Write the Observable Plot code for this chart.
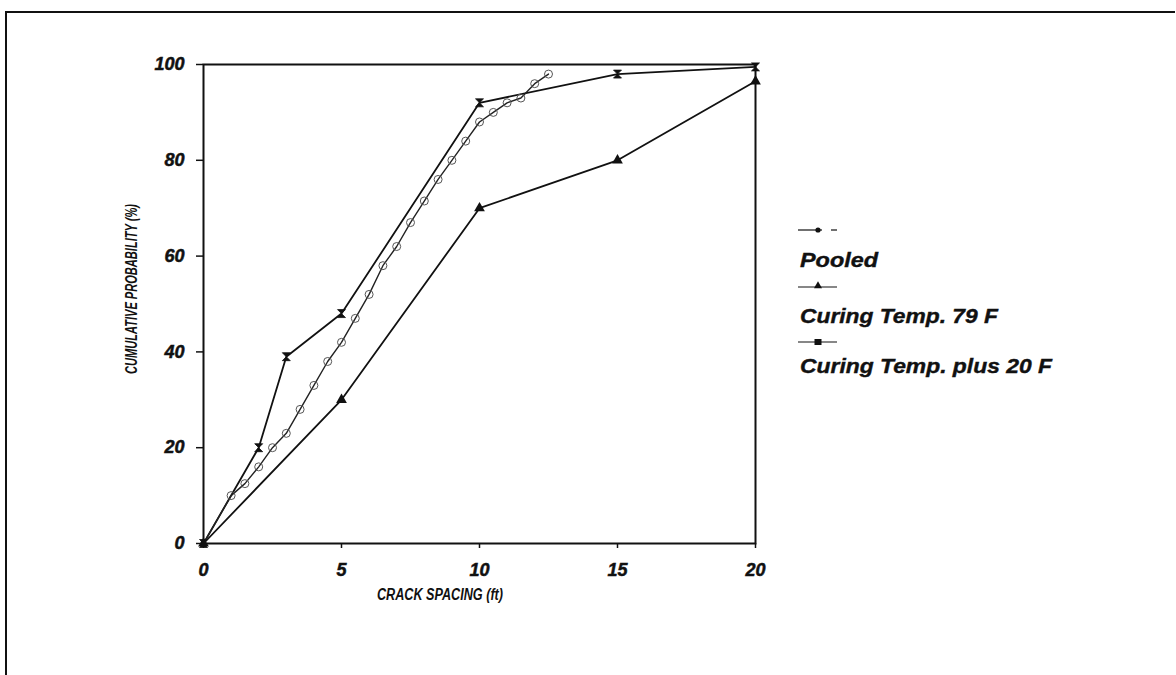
<!DOCTYPE html>
<html>
<head>
<meta charset="utf-8">
<script src="https://cdn.jsdelivr.net/npm/d3@7"></script>
<script src="https://cdn.jsdelivr.net/npm/@observablehq/plot@0.6"></script>
<style>
  html, body { margin: 0; padding: 0; background: #fff; }
  #wrap { position: relative; width: 1176px; height: 675px; overflow: hidden; background: #fff; }
  #outer { position: absolute; left: 5px; top: 11px; width: 1170px; height: 664px; border-left: 2px solid #111; border-top: 2px solid #111; box-sizing: border-box; }
  #legend { position: absolute; left: 780px; top: 200px; }
  #chart { position: absolute; left: 0; top: 0; }
</style>
</head>
<body>
<div id="wrap">
  <div id="chart"></div>
  <div id="outer"></div>
  <div id="legend"></div>
</div>
<script>
// ---- data ----
const seriesNames = ["Pooled", "Curing Temp. 79 F", "Curing Temp. plus 20 F"];

const pooledX = [0, 1, 1.5, 2, 2.5, 3, 3.5, 4, 4.5, 5, 5.5, 6, 6.5, 7, 7.5, 8, 8.5, 9, 9.5, 10, 10.5, 11, 11.5, 12, 12.5];
const pooledY = [0, 10, 12.5, 16, 20, 23, 28, 33, 38, 42, 47, 52, 58, 62, 67, 71.5, 76, 80, 84, 88, 90, 92, 93, 96, 98];

const temp79X = [0, 5, 10, 15, 20];
const temp79Y = [0, 30, 70, 80, 96.5];

const plus20X = [0, 2, 3, 5, 10, 15, 20];
const plus20Y = [0, 20, 39, 48, 92, 98, 99.5];

const xTicks = [0, 5, 10, 15, 20];
const yTicks = [0, 20, 40, 60, 80, 100];
const xTitle = "CRACK SPACING (ft)";
const yTitle = "CUMULATIVE PROBABILITY (%)";

// ---- tables ----
const pooled = pooledX.map((x, i) => ({x, y: pooledY[i]}));
const temp79 = temp79X.map((x, i) => ({x, y: temp79Y[i]}));
const plus20 = plus20X.map((x, i) => ({x, y: plus20Y[i]}));

// hourglass symbol
const hourglass = {
  draw(ctx, size) {
    const r = Math.sqrt(size) / 2;
    ctx.moveTo(-r, -r);
    ctx.lineTo(r, -r);
    ctx.lineTo(-r, r);
    ctx.lineTo(r, r);
    ctx.closePath();
  }
};

const chart = Plot.plot({
  width: 1176,
  height: 675,
  marginLeft: 203,
  marginRight: 421,
  marginTop: 64,
  marginBottom: 132,
  x: {domain: [0, 20]},
  y: {domain: [0, 100]},
  style: {
    fontFamily: "'Liberation Sans', Arial, sans-serif",
    fontSize: "18px",
    fontStyle: "italic",
    fontWeight: "bold",
    background: "transparent",
    color: "#111",
    overflow: "visible"
  },
  marks: [
    Plot.axisX({ticks: xTicks, tickSize: 5, tickPadding: 15, strokeWidth: 1.5, label: null}),
    Plot.axisY({ticks: yTicks, tickSize: 7, tickPadding: 12, strokeWidth: 1.5, label: null}),
    Plot.frame({stroke: "#111", strokeWidth: 2}),
    Plot.line(temp79, {x: "x", y: "y", stroke: "#111", strokeWidth: 1.8}),
    Plot.line(plus20, {x: "x", y: "y", stroke: "#111", strokeWidth: 1.8}),
    Plot.line(pooled, {x: "x", y: "y", stroke: "#222", strokeWidth: 1.4}),
    Plot.dot(temp79, {x: "x", y: "y", symbol: "triangle", r: 4, fill: "#111", stroke: "none"}),
    Plot.dot(plus20, {x: "x", y: "y", symbol: hourglass, r: 4.5, fill: "#111", stroke: "#111", strokeWidth: 0.8}),
    Plot.dot(pooled.slice(1), {x: "x", y: "y", symbol: "circle", r: 4, fill: "none", stroke: "#555", strokeWidth: 1})
  ]
});
document.getElementById("chart").appendChild(chart);

// heavier tick labels
d3.select(chart).selectAll('g[aria-label="x-axis tick label"] text, g[aria-label="y-axis tick label"] text')
  .attr("stroke", "#111").attr("stroke-width", 0.5);

// axis titles
const svg = d3.select(chart);
svg.append("text")
  .attr("x", 440).attr("y", 594).attr("dy", "0.35em")
  .attr("text-anchor", "middle")
  .attr("font-size", 16).attr("font-style", "italic").attr("font-weight", "bold")
  .attr("textLength", 126).attr("lengthAdjust", "spacingAndGlyphs")
  .attr("fill", "#111")
  .text(xTitle);
svg.append("text")
  .attr("transform", "translate(131,289) rotate(-90)")
  .attr("dy", "0.35em")
  .attr("text-anchor", "middle")
  .attr("font-size", 17).attr("font-style", "italic").attr("font-weight", "bold")
  .attr("textLength", 170).attr("lengthAdjust", "spacingAndGlyphs")
  .attr("fill", "#111")
  .text(yTitle);

// ---- legend ----
const lg = d3.select("#legend").append("svg")
  .attr("width", 300).attr("height", 200)
  .style("font-family", "'Liberation Sans', Arial, sans-serif")
  .style("font-style", "italic").style("font-weight", "bold");
// legend offsets relative to (780,200)
const items = [
  {name: seriesNames[0], sy: 30, ty: 67, tl: 78, kind: "circle"},
  {name: seriesNames[1], sy: 87, ty: 123, tl: 198, kind: "triangle"},
  {name: seriesNames[2], sy: 142, ty: 173, tl: 252, kind: "square"}
];
items.forEach(it => {
  if (it.kind === "circle") {
    lg.append("line").attr("x1", 18).attr("x2", 42).attr("y1", it.sy).attr("y2", it.sy).attr("stroke", "#111").attr("stroke-width", 1.2);
    lg.append("line").attr("x1", 51).attr("x2", 57).attr("y1", it.sy).attr("y2", it.sy).attr("stroke", "#111").attr("stroke-width", 1.2);
    lg.append("circle").attr("cx", 38).attr("cy", it.sy).attr("r", 2.6).attr("fill", "#111");
  } else {
    lg.append("line").attr("x1", 18).attr("x2", 57).attr("y1", it.sy).attr("y2", it.sy).attr("stroke", "#111").attr("stroke-width", 1.2);
    if (it.kind === "triangle") {
      lg.append("path").attr("d", d3.symbol(d3.symbolTriangle, 28)()).attr("transform", `translate(38,${it.sy - 1})`).attr("fill", "#111");
    } else {
      lg.append("rect").attr("x", 34.5).attr("y", it.sy - 3).attr("width", 7).attr("height", 6).attr("fill", "#111");
    }
  }
  lg.append("text").attr("x", 20).attr("y", it.ty)
    .attr("font-size", 21)
    .attr("textLength", it.tl).attr("lengthAdjust", "spacingAndGlyphs")
    .attr("fill", "#111").attr("stroke", "#111").attr("stroke-width", 0.4)
    .text(it.name);
});
</script>
</body>
</html>
